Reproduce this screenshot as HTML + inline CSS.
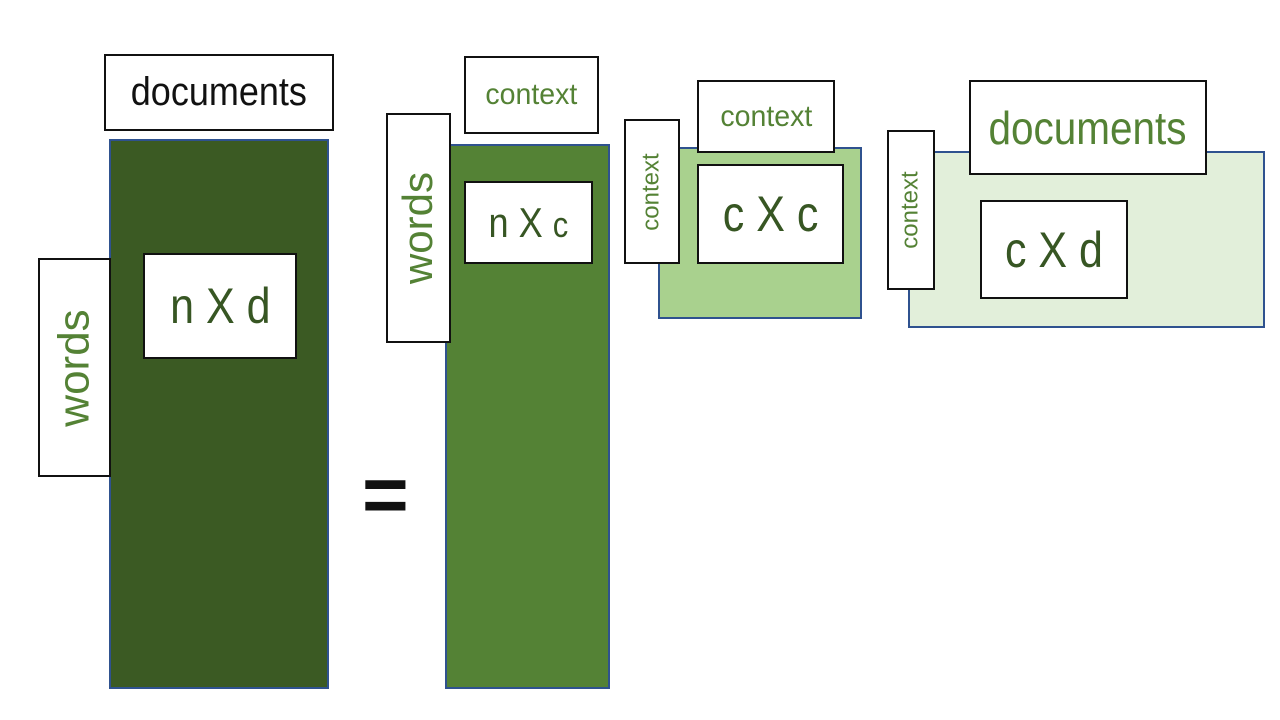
<!DOCTYPE html>
<html><head><style>
body{margin:0;width:1280px;height:720px;background:#fff;position:relative;overflow:hidden;font-family:"Liberation Sans",sans-serif}
.r{position:absolute;box-sizing:border-box;border:2px solid #2f528f}
.b{position:absolute;box-sizing:border-box;background:#fff;border:2px solid #111;display:flex;align-items:center;justify-content:center;white-space:nowrap;color:#548235}
.b>i{font-style:normal;display:inline-block}
.v span{display:inline-block;transform:rotate(-90deg)}
.dk{color:#375623}
.n{transform:scaleX(0.86)}
</style></head><body>
<div class="r" style="left:109px;top:139px;width:220px;height:550px;background:#3b5a23"></div>
<div class="b" style="left:104px;top:54px;width:230px;height:77px;color:#111;font-size:40px"><i style="transform:scaleX(0.9)">documents</i></div>
<div class="b v" style="left:38px;top:258px;width:73px;height:219px;font-size:44px"><span>words</span></div>
<div class="b dk" style="left:143px;top:253px;width:154px;height:106px;font-size:50px"><i class="n">n X d</i></div>

<div style="position:absolute;left:362px;top:455px;font-size:80px;font-weight:bold;color:#111;line-height:80px">=</div>

<div class="r" style="left:445px;top:144px;width:165px;height:545px;background:#548235"></div>
<div class="b" style="left:464px;top:56px;width:135px;height:78px;font-size:30px"><i style="transform:scaleX(0.95)">context</i></div>
<div class="b v" style="left:386px;top:113px;width:65px;height:230px;font-size:42px"><span>words</span></div>
<div class="b dk" style="left:464px;top:181px;width:129px;height:83px;font-size:42px"><i class="n">n X <span style="font-size:36px">c</span></i></div>

<div class="r" style="left:658px;top:147px;width:204px;height:172px;background:#a9d18e"></div>
<div class="b v" style="left:624px;top:119px;width:56px;height:145px;font-size:24px"><span>context</span></div>
<div class="b" style="left:697px;top:80px;width:138px;height:73px;font-size:30px"><i style="transform:scaleX(0.95)">context</i></div>
<div class="b dk" style="left:697px;top:164px;width:147px;height:100px;font-size:50px"><i class="n">c X c</i></div>

<div class="r" style="left:908px;top:151px;width:357px;height:177px;background:#e2efda"></div>
<div class="b v" style="left:887px;top:130px;width:48px;height:160px;font-size:24px"><span>context</span></div>
<div class="b" style="left:969px;top:80px;width:238px;height:95px;font-size:46px"><i style="transform:scaleX(0.88)">documents</i></div>
<div class="b dk" style="left:980px;top:200px;width:148px;height:99px;font-size:50px"><i class="n">c X d</i></div>
</body></html>
